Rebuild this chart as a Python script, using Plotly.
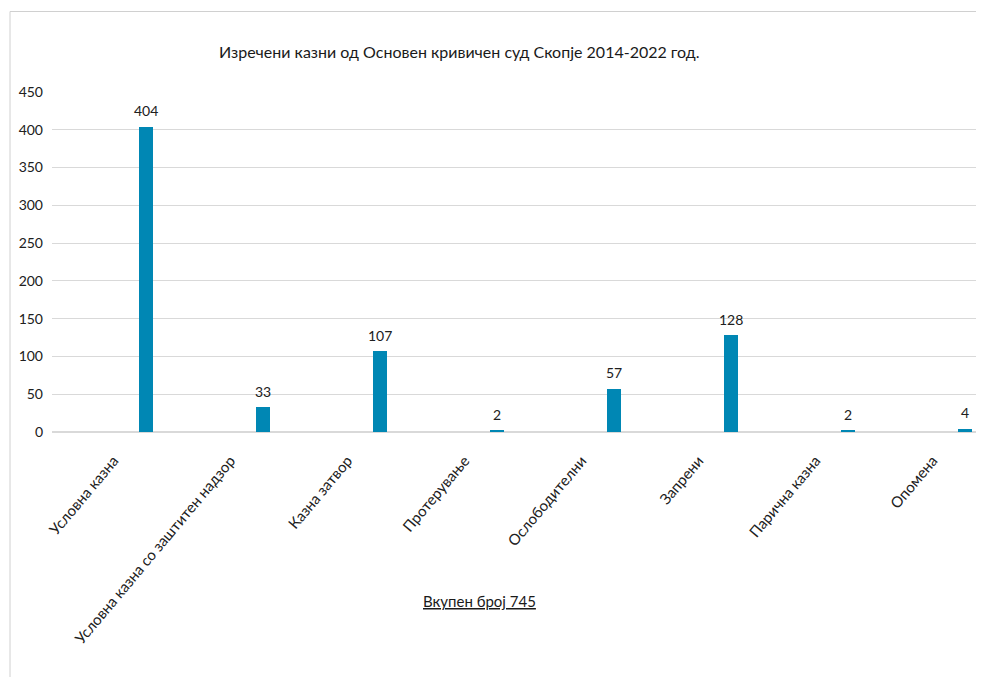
import plotly.graph_objects as go

categories = ["Условна казна", "Условна казна со заштитен надзор", "Казна затвор",
              "Протерување", "Ослободителни", "Запрени", "Парична казна", "Опомена"]
values = [404, 33, 107, 2, 57, 128, 2, 4]
y_ticks = [0, 50, 100, 150, 200, 250, 300, 350, 400, 450]
title_text = "Изречени казни од Основен кривичен суд Скопје 2014-2022 год."
total_text = "Вкупен број 745"

# page body has an 8px margin; work in page coordinates and subtract it
OFF = 8
W, H = 984 - OFF, 677 - OFF
L, R, T = 52 - OFF, 0, 92 - OFF
plot_bottom = 432 - OFF
B = H - plot_bottom
plot_w = W - L - R
plot_h = plot_bottom - T
slot = 117.0
bar_w = 14 / slot
bar_off = 28.5 / slot
font_family = "Lato, 'Open Sans', sans-serif"
txt = "#202020"

fig = go.Figure()
fig.add_trace(go.Bar(
    x=categories, y=values,
    width=bar_w, offset=bar_off,
    marker=dict(color="#0087B4", line=dict(width=0)),
    cliponaxis=False,
))

# value labels above bars
for i, v in enumerate(values):
    fig.add_annotation(x=i + bar_off + bar_w / 2, y=v, xref="x", yref="y",
                       text=str(v), showarrow=False, yanchor="middle", xanchor="center",
                       yshift=16, font=dict(size=14, color=txt, family=font_family))

fig.update_layout(
    width=W, height=H,
    margin=dict(l=L, r=R, t=T, b=B, autoexpand=False),
    paper_bgcolor="white", plot_bgcolor="white",
    showlegend=False,
    font=dict(family=font_family, color=txt),
    bargap=0,
)
x_hi = -0.5 + plot_w / slot
fig.update_xaxes(type="category", range=[-0.5, x_hi], tickangle=-50,
                 tickfont=dict(size=15, color=txt), showgrid=False,
                 showline=False, ticks="", zeroline=False,
                 ticklabelshift=3, ticklabelstandoff=16)
fig.update_yaxes(range=[0, 450], tickvals=y_ticks, ticktext=[str(v) for v in y_ticks],
                 tickfont=dict(size=14, color=txt), showgrid=True,
                 gridcolor="#d9d9d9", gridwidth=1, zeroline=True, zerolinecolor="#d9d9d9",
                 showline=False, ticks="", ticklabelstandoff=8)

# outer chart frame
fig.add_shape(type="rect", xref="paper", yref="paper",
              x0=(10 - OFF - L) / plot_w, x1=(W + 5 - L) / plot_w,
              y0=-(H + 5 - plot_bottom) / plot_h, y1=(plot_bottom - (11.5 - OFF)) / plot_h,
              line=dict(color="#d0d0d0", width=1), fillcolor="rgba(0,0,0,0)", layer="below")

fig.add_annotation(text=title_text, xref="paper", yref="paper",
                   x=(459.5 - OFF - L) / plot_w, y=(plot_bottom - (52 - OFF)) / plot_h,
                   showarrow=False, xanchor="center", yanchor="middle",
                   font=dict(size=16, color="#1a1a1a", family=font_family))
fig.add_annotation(text="<u>" + total_text + "</u>", xref="paper", yref="paper",
                   x=(479 - OFF - L) / plot_w, y=(plot_bottom - (601 - OFF)) / plot_h,
                   showarrow=False, xanchor="center", yanchor="middle",
                   font=dict(size=15, color="#1a1a1a", family=font_family))

fig.write_html("out.html")
